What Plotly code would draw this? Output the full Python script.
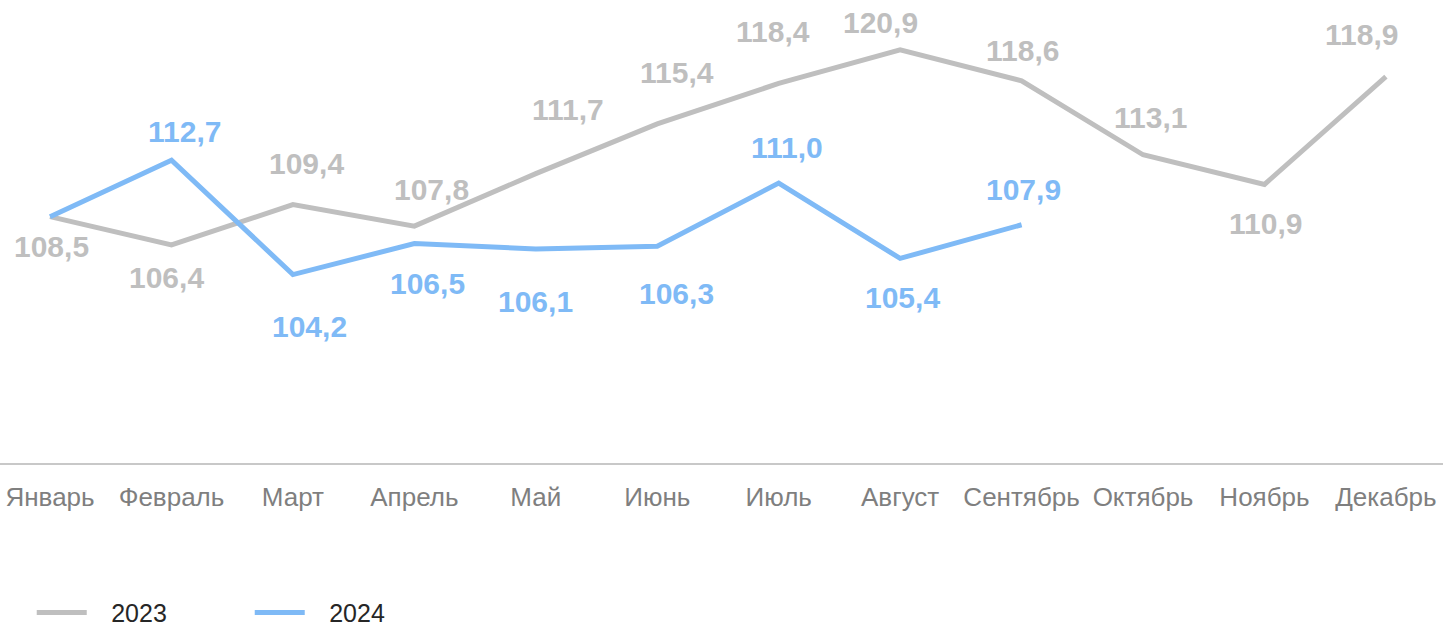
import plotly.graph_objects as go

meses = ["Январь", "Февраль", "Март", "Апрель", "Май", "Июнь",
         "Июль", "Август", "Сентябрь", "Октябрь", "Ноябрь", "Декабрь"]
valores_2023 = [108.5, 106.4, 109.4, 107.8, 111.7, 115.4, 118.4, 120.9, 118.6, 113.1, 110.9, 118.9]
valores_2024 = [108.5, 112.7, 104.2, 106.5, 106.1, 106.3, 111.0, 105.4, 107.9]

# desplazamientos de las etiquetas (px) respecto al punto
desp_2023 = [(1, -30), (-5, -33), (14, 41), (17, 37), (32, 64), (20, 51),
             (-6, 52), (-20, 27), (1, 30), (7, 37), (1, -39), (-24, 42)]
desp_2024 = [None, (13, 29), (17, -52), (13, -40), (0, -52), (19, -47),
             (8, 36), (2, -39), (2, 35)]

GRIS = "#bfbfbf"
AZUL = "#7fbaf6"
SEP = "\u2002\u00a0"  # hueco entre la linea de la leyenda y el texto

fig = go.Figure()
fig.add_trace(go.Scatter(x=meses, y=valores_2023, name=SEP + "2023", mode="lines",
                         line=dict(color=GRIS, width=5)))
fig.add_trace(go.Scatter(x=meses[:len(valores_2024)], y=valores_2024, name=SEP + "2024", mode="lines",
                         line=dict(color=AZUL, width=5)))

def etiquetas(valores, desp, color):
    for mes, v, d in zip(meses, valores, desp):
        if d is None:
            continue
        fig.add_annotation(x=mes, y=v, text=f"{v:.1f}".replace(".", ","),
                           showarrow=False, xshift=d[0], yshift=d[1],
                           font=dict(family="Liberation Sans, Arial", size=30, color=color, weight="bold"))

etiquetas(valores_2023, desp_2023, GRIS)
etiquetas(valores_2024, desp_2024, AZUL)

fig.update_layout(
    width=1443, height=626,
    margin=dict(l=0, r=0, t=0, b=163),
    plot_bgcolor="white", paper_bgcolor="white",
    font=dict(family="Liberation Sans, Arial"),
    showlegend=True,
    legend=dict(orientation="h", x=0.022, xanchor="left", yref="container", y=0.021, yanchor="middle",
                font=dict(size=25, color="#262626"), itemwidth=50,
                entrywidth=153, entrywidthmode="pixels"),
    xaxis=dict(range=[-0.412, 11.47], showgrid=False, showline=True, linecolor="#c8c8c8",
               linewidth=2, ticks="", tickfont=dict(size=26, color="#7f7f7f"),
               ticklabelstandoff=10, automargin=False),
    yaxis=dict(range=[90.2, 124.6], visible=False, showgrid=False, zeroline=False),
)

# quitar el margen del body para que el grafico ocupe toda la ventana
fig.write_html("out.html", config={"displayModeBar": False},
               post_script="document.body.style.margin='0';document.body.style.overflow='hidden';")
